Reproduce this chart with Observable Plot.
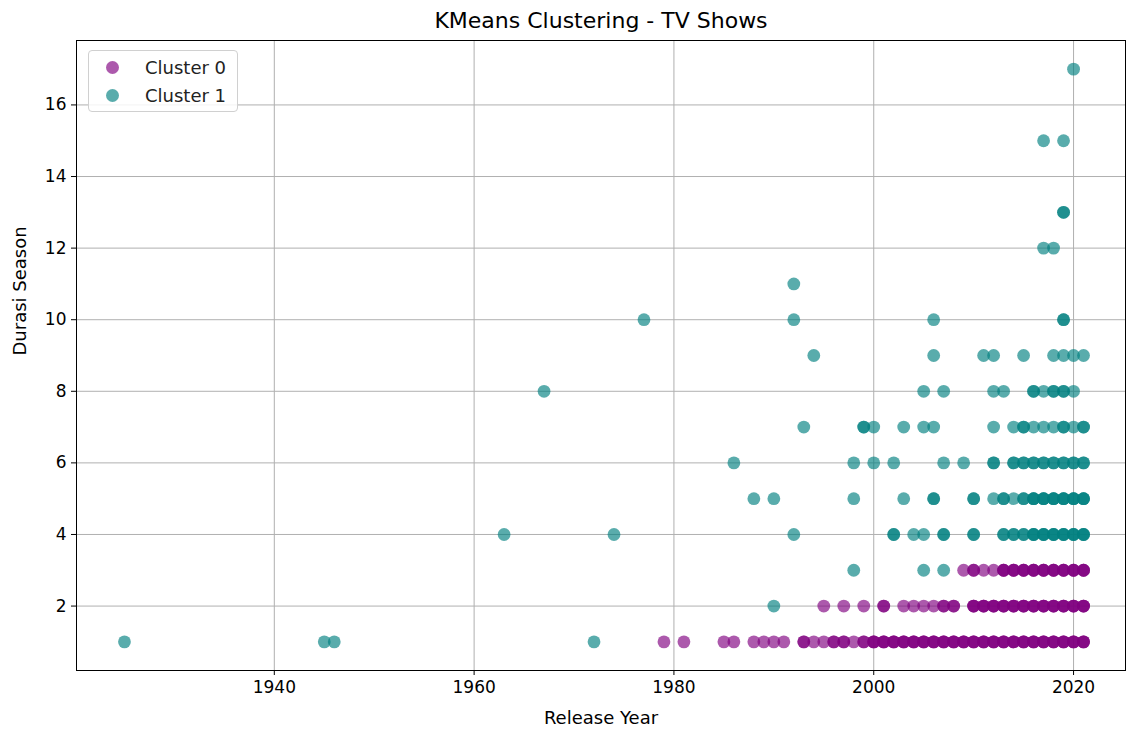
<!DOCTYPE html>
<html>
<head>
<meta charset="utf-8">
<script src="https://cdn.jsdelivr.net/npm/d3@7"></script>
<script src="https://cdn.jsdelivr.net/npm/@observablehq/plot@0.6"></script>
<style>
  html, body { margin: 0; padding: 0; background: #fff; }
  #wrap { position: relative; width: 1126px; height: 731px; }
  #legend {
    position: absolute; left: 88px; top: 50px; width: 150px; height: 62px;
    box-sizing: border-box; border: 1px solid #d0d0d0; border-radius: 4px;
    background: rgba(255,255,255,0.85); font-family: "DejaVu Sans", sans-serif; font-size: 18px; color: #222;
  }
  .item { position: absolute; left: 0; height: 22px; display: flex; align-items: center; white-space: nowrap; }
  .sw { width: 13px; height: 13px; border-radius: 50%; margin-left: 17px; margin-right: 26px; }
</style>
</head>
<body>
<div id="wrap">
  <div id="chart"></div>
  <div id="legend">
    <div class="item" style="top:5px"><span class="sw" style="background:purple;opacity:0.65"></span><span>Cluster 0</span></div>
    <div class="item" style="top:33px"><span class="sw" style="background:teal;opacity:0.65"></span><span>Cluster 1</span></div>
  </div>
</div>
<script>
// ---- data: [release year, number of shows at that point] ----
// Cluster 0 (purple)
const c0Season1 = [[1979,1],[1981,1],[1985,1],[1986,1],[1988,1],[1989,1],[1990,1],[1991,1],[1993,2],[1994,1],[1995,1],[1996,2],[1997,2],[1998,1],[1999,2],
  [2000,3],[2001,3],[2002,3],[2003,3],[2004,3],[2005,3],[2006,3],[2007,3],[2008,3],[2009,3],[2010,3],[2011,3],[2012,3],[2013,3],[2014,3],[2015,3],[2016,3],[2017,3],[2018,3],[2019,3],[2020,3],[2021,3]];
const c0Season2 = [[1995,1],[1997,1],[1999,1],[2001,2],[2003,1],[2004,1],[2005,1],[2006,1],[2007,2],[2008,2],
  [2010,3],[2011,3],[2012,3],[2013,3],[2014,3],[2015,3],[2016,3],[2017,3],[2018,3],[2019,3],[2020,3],[2021,3]];
const c0Season3 = [[2009,1],[2010,2],[2011,1],[2012,1],[2013,3],[2014,3],[2015,3],[2016,3],[2017,3],[2018,3],[2019,3],[2020,3],[2021,3]];

// Cluster 1 (teal)
const c1Season1 = [[1925,1],[1945,1],[1946,1],[1972,1]];
const c1Season2 = [[1990,1]];
const c1Season3 = [[1998,1],[2005,1],[2007,1]];
const c1Season4 = [[1963,1],[1974,1],[1992,1],[2002,2],[2004,1],[2005,1],[2007,2],[2010,2],
  [2013,2],[2014,2],[2015,2],[2016,3],[2017,3],[2018,3],[2019,3],[2020,3],[2021,3]];
const c1Season5 = [[1988,1],[1990,1],[1998,1],[2003,1],[2006,2],[2010,2],[2012,1],[2013,2],[2014,1],[2015,2],
  [2016,3],[2017,3],[2018,3],[2019,3],[2020,3],[2021,3]];
const c1Season6 = [[1986,1],[1998,1],[2000,1],[2002,1],[2007,1],[2009,1],[2012,2],[2014,2],[2015,2],
  [2016,2],[2017,2],[2018,2],[2019,2],[2020,2],[2021,2]];
const c1Season7 = [[1993,1],[1999,2],[2000,1],[2003,1],[2005,1],[2006,1],[2012,1],[2014,1],[2015,2],[2016,1],[2017,1],[2018,1],[2019,2],[2020,1],[2021,2]];
const c1Season8 = [[1967,1],[2005,1],[2007,1],[2012,1],[2013,1],[2016,2],[2017,1],[2018,2],[2019,2],[2020,1]];
const c1Season9 = [[1994,1],[2006,1],[2011,1],[2012,1],[2015,1],[2018,1],[2019,1],[2020,1],[2021,1]];
const c1Season10 = [[1977,1],[1992,1],[2006,1],[2019,2]];
const c1Season11 = [[1992,1]];
const c1Season12 = [[2017,1],[2018,1]];
const c1Season13 = [[2019,2]];
const c1Season15 = [[2017,1],[2019,1]];
const c1Season17 = [[2020,1]];

const xTicks = [1940, 1960, 1980, 2000, 2020];
const yTicks = [2, 4, 6, 8, 10, 12, 14, 16];
const clusterNames = ["Cluster 0", "Cluster 1"];

function expand(list, season, cluster) {
  const out = [];
  for (const [year, n] of list) for (let i = 0; i < n; i++) out.push({year, season, cluster});
  return out;
}
const points0 = [
  ...expand(c0Season1, 1, 0), ...expand(c0Season2, 2, 0), ...expand(c0Season3, 3, 0)
];
const points1 = [
  ...expand(c1Season1, 1, 1), ...expand(c1Season2, 2, 1), ...expand(c1Season3, 3, 1), ...expand(c1Season4, 4, 1),
  ...expand(c1Season5, 5, 1), ...expand(c1Season6, 6, 1), ...expand(c1Season7, 7, 1), ...expand(c1Season8, 8, 1),
  ...expand(c1Season9, 9, 1), ...expand(c1Season10, 10, 1), ...expand(c1Season11, 11, 1), ...expand(c1Season12, 12, 1),
  ...expand(c1Season13, 13, 1), ...expand(c1Season15, 15, 1), ...expand(c1Season17, 17, 1)
];

const chart = Plot.plot({
  width: 1126,
  height: 731,
  marginTop: 40,
  marginBottom: 61,
  marginLeft: 76,
  marginRight: 1,
  style: { fontFamily: "DejaVu Sans, sans-serif", fontSize: "17px", background: "white", color: "#000" },
  x: { domain: [1920.2, 2025.2], label: null },
  y: { domain: [0.2, 17.8], label: null },
  marks: [
    Plot.gridX(xTicks, { stroke: "#b0b0b0", strokeOpacity: 1, strokeWidth: 1 }),
    Plot.gridY(yTicks, { stroke: "#b0b0b0", strokeOpacity: 1, strokeWidth: 1 }),
    Plot.dot(points0, { x: "year", y: "season", r: 6.4, fill: "purple", fillOpacity: 0.65, stroke: "none" }),
    Plot.dot(points1, { x: "year", y: "season", r: 6.4, fill: "teal", fillOpacity: 0.65, stroke: "none" }),
    Plot.frame({ stroke: "#000", strokeWidth: 1 }),
    Plot.axisX(xTicks, { tickSize: 5, tickPadding: 5, fontSize: 17, label: null, tickFormat: d => String(d) }),
    Plot.axisY(yTicks, { tickSize: 5, tickPadding: 5, fontSize: 17, label: null }),
    Plot.text(["Release Year"], { frameAnchor: "bottom", lineAnchor: "middle", dy: 48, fontSize: 18 }),
    Plot.text(["Durasi Season"], { frameAnchor: "left", lineAnchor: "middle", dx: -56, rotate: -90, fontSize: 18 }),
    Plot.text(["KMeans Clustering - TV Shows"], { frameAnchor: "top", lineAnchor: "middle", dy: -20, fontSize: 22 })
  ]
});
document.getElementById("chart").appendChild(chart);
</script>
</body>
</html>
